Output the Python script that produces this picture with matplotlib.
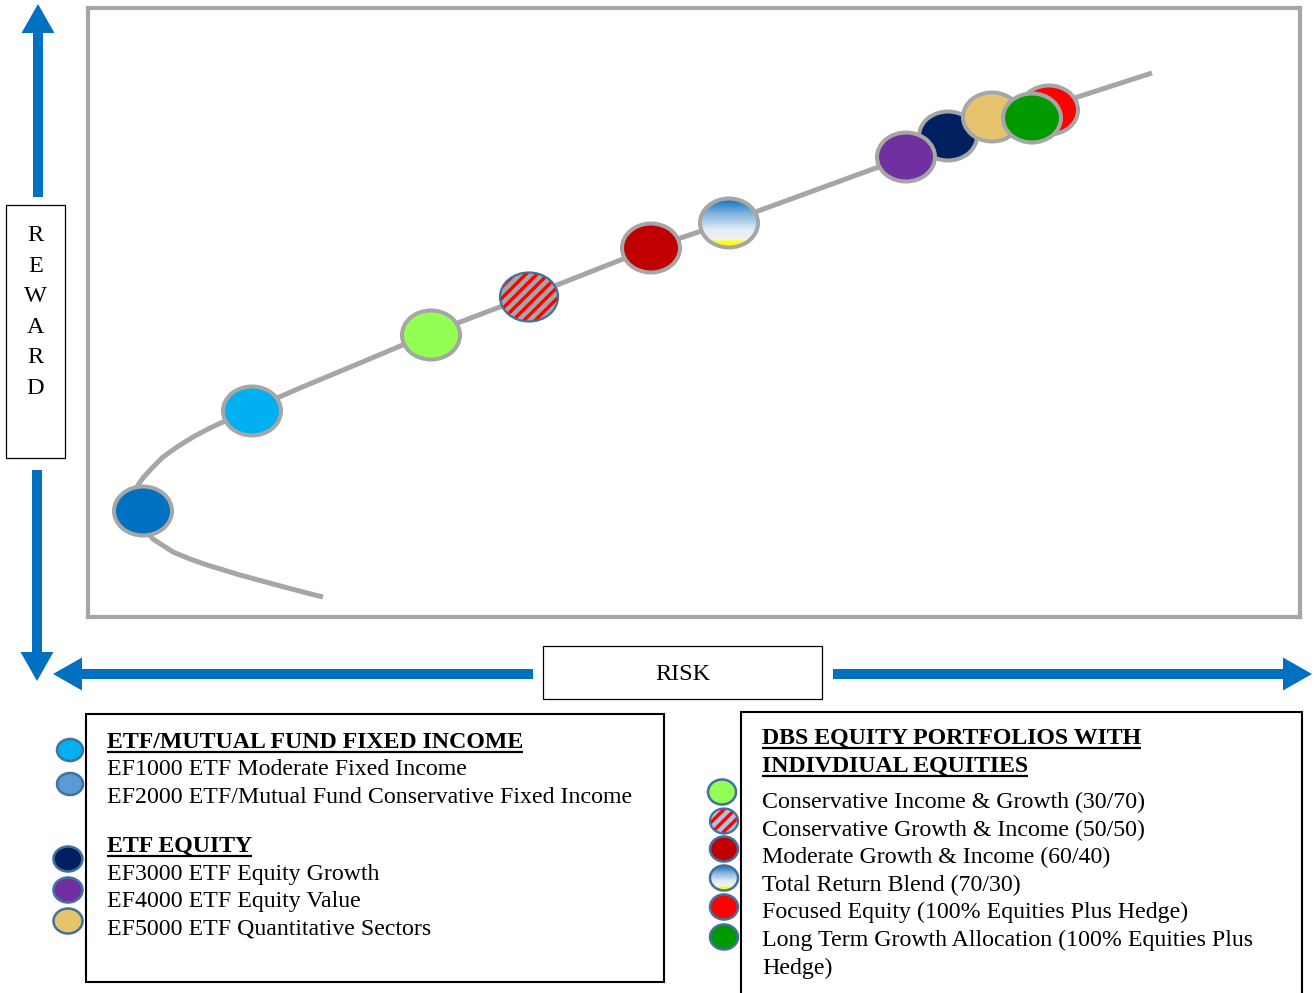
import matplotlib
matplotlib.use('Agg')
import matplotlib.pyplot as plt
from matplotlib.patches import Ellipse, Rectangle, FancyArrow
from matplotlib.colors import LinearSegmentedColormap
import numpy as np

W, H = 1314, 993
plt.rcParams['font.family'] = ['Liberation Serif', 'DejaVu Serif']
plt.rcParams['hatch.linewidth'] = 2.4

# ---------------- data ----------------
# efficient-frontier curve (risk, reward)
curve_risk = [235, 219, 185, 152, 119, 102, 85, 65, 53, 47, 47, 50, 55, 64, 75, 89, 105,
              122, 137, 164, 212, 272, 343, 441, 563, 640, 818, 912, 1064]
curve_reward = [20, 24, 33, 42, 52, 58, 65, 78, 92, 105, 118, 132, 139, 149, 160, 170, 180,
                189, 196, 208, 229, 254, 284, 321, 369, 395, 460, 495, 544]

# portfolios (drawing order)
portfolio_names = ['EF2000', 'EF1000', 'Conservative Income & Growth',
                   'Conservative Growth & Income', 'Moderate Growth & Income',
                   'Total Return Blend', 'EF3000', 'EF4000', 'EF5000',
                   'Focused Equity', 'Long Term Growth Allocation']
portfolio_risk = [55, 164, 343, 441, 563, 641, 860, 818, 904, 961, 944]
portfolio_reward = [106, 206, 282, 320, 369, 394, 481, 460, 500, 507, 499]
portfolio_colors = ['#0070C0', '#00B0F0', '#92FF52', 'stripe', '#C00000', 'gradient',
                    '#002060', '#7030A0', '#E6C46E', '#FF0000', '#009900']

fixed_income_title = 'ETF/MUTUAL FUND FIXED INCOME'
fixed_income_labels = ['EF1000 ETF Moderate Fixed Income',
                       'EF2000 ETF/Mutual Fund Conservative Fixed Income']
fixed_income_colors = ['#00B0F0', '#5B9BD5']
etf_equity_title = 'ETF EQUITY'
etf_equity_labels = ['EF3000 ETF Equity Growth', 'EF4000 ETF Equity Value',
                     'EF5000 ETF Quantitative Sectors']
etf_equity_colors = ['#002060', '#7030A0', '#E6C46E']
dbs_title = ['DBS EQUITY PORTFOLIOS WITH', 'INDIVDIUAL EQUITIES']
dbs_labels = ['Conservative Income & Growth (30/70)',
              'Conservative Growth & Income (50/50)',
              'Moderate Growth & Income (60/40)',
              'Total Return Blend (70/30)',
              'Focused Equity (100% Equities Plus Hedge)',
              'Long Term Growth Allocation (100% Equities Plus\nHedge)']
dbs_colors = ['#92FF52', 'stripe', '#C00000', 'gradient', '#FF0000', '#009900']

# ---------------- styles ----------------
BLUE = '#0070C0'
GRAY = '#A6A6A6'
EDGE = '#41719C'
FS = 17.2
grad_cmap = LinearSegmentedColormap.from_list(
    'sky', [(0.0, '#FFFF00'), (0.11, '#FFFF00'), (0.14, '#F2F2F2'),
            (0.35, '#E3EDF7'), (0.7, '#7DB0DE'), (1.0, '#0B6CBF')])

fig = plt.figure(figsize=(W / 100, H / 100), dpi=100)

# overlay axes in pixel units
ov = fig.add_axes([0, 0, 1, 1], zorder=0)
ov.set_xlim(0, W)
ov.set_ylim(H, 0)
ov.axis('off')

# chart axes
ax = fig.add_axes([88 / W, (H - 617) / H, 1212 / W, 609 / H], zorder=1)
ax.set_xlim(0, 1212)
ax.set_ylim(0, 609)
ax.set_xticks([])
ax.set_yticks([])
for s in ax.spines.values():
    s.set_color(GRAY)
    s.set_linewidth(3.0)

ax.plot(curve_risk, curve_reward, color=GRAY, lw=3.6, solid_capstyle='butt',
        solid_joinstyle='round', zorder=2)


def draw_marker(axis, x, y, w, h, style, edgecolor, lw, flip=False, z=3):
    if style == 'stripe':
        face = GRAY if not flip else '#A9C4E0'
        axis.add_patch(Ellipse((x, y), w, h, facecolor=face, edgecolor='none', zorder=z))
        axis.add_patch(Ellipse((x, y), w, h, facecolor='none', edgecolor='#FF0000',
                               hatch='///', lw=0, zorder=z))
        axis.add_patch(Ellipse((x, y), w, h, facecolor='none', edgecolor=EDGE,
                               lw=1.6, zorder=z))
        return
    if style == 'gradient':
        clip = Ellipse((x, y), w, h, facecolor='none', edgecolor='none', zorder=z)
        axis.add_patch(clip)
        g = np.linspace(1, 0, 100).reshape(-1, 1)
        if flip:
            ext = (x - w / 2, x + w / 2, y + h / 2, y - h / 2)
        else:
            ext = (x - w / 2, x + w / 2, y - h / 2, y + h / 2)
        im = axis.imshow(g, cmap=grad_cmap, extent=ext, origin='upper',
                         aspect='auto', zorder=z, interpolation='bilinear')
        im.set_clip_path(clip)
        axis.add_patch(Ellipse((x, y), w, h, facecolor='none', edgecolor=edgecolor,
                               lw=lw, zorder=z))
        return
    axis.add_patch(Ellipse((x, y), w, h, facecolor=style, edgecolor=edgecolor,
                           lw=lw, zorder=z))


for i, (r, rw, c) in enumerate(zip(portfolio_risk, portfolio_reward, portfolio_colors)):
    draw_marker(ax, r, rw, 58, 49, c, GRAY, 2.9, z=3 + i * 0.01)
ax.set_xlim(0, 1212)
ax.set_ylim(0, 609)

# ---------------- arrows ----------------
akw = dict(width=10, head_width=33, head_length=29, length_includes_head=True,
           color=BLUE, lw=0)
ov.add_patch(FancyArrow(38, 197, 0, -193, **akw))
ov.add_patch(FancyArrow(37, 470, 0, 211, **akw))
ov.add_patch(FancyArrow(533, 674, -480, 0, **akw))
ov.add_patch(FancyArrow(833, 674, 479, 0, **akw))

# ---------------- axis label boxes ----------------
ov.add_patch(Rectangle((6, 205), 59, 253, facecolor='white', edgecolor='black', lw=0.9))
for k, ch in enumerate('REWARD'):
    ov.text(35.5, 241 + k * 30.6, ch, fontsize=17.5, ha='center', va='baseline')
ov.add_patch(Rectangle((543, 646), 279, 53, facecolor='white', edgecolor='black', lw=0.9))
ov.text(682.5, 680, 'RISK', fontsize=17.5, ha='center', va='baseline')

# ---------------- legend boxes ----------------
ov.add_patch(Rectangle((86, 714), 578, 268, facecolor='white', edgecolor='black', lw=1.5))
ov.add_patch(Rectangle((741, 712), 561, 300, facecolor='white', edgecolor='black',
                       lw=1.5, clip_on=False))

underlined = []
t = ov.text(107, 748, fixed_income_title, fontsize=FS, fontweight='bold', va='baseline')
underlined.append((t, 748))
for k, lab in enumerate(fixed_income_labels):
    ov.text(107, 775 + k * 28, lab, fontsize=FS, va='baseline')
t = ov.text(107, 852, etf_equity_title, fontsize=FS, fontweight='bold', va='baseline')
underlined.append((t, 852))
for k, lab in enumerate(etf_equity_labels):
    ov.text(107, 880 + k * 27.5, lab, fontsize=FS, va='baseline')

for k, line in enumerate(dbs_title):
    t = ov.text(762, 744 + k * 28, line, fontsize=FS, fontweight='bold', va='baseline')
    underlined.append((t, 744 + k * 28))
y = 808
for lab in dbs_labels:
    for part in lab.split('\n'):
        ov.text(762, y, part, fontsize=FS, va='baseline')
        y += 27.6

# legend markers
left_marker_y = [750, 784]
for y, c in zip(left_marker_y, fixed_income_colors):
    draw_marker(ov, 70, y, 26, 22, c, EDGE, 1.8, flip=True)
left_marker_y2 = [859, 890, 921]
for y, c in zip(left_marker_y2, etf_equity_colors):
    draw_marker(ov, 68, y, 29, 25, c, EDGE, 1.8, flip=True)
right_marker_y = [792, 821, 849, 878, 907, 937]
for k, (y, c) in enumerate(zip(right_marker_y, dbs_colors)):
    x = 722 if k == 0 else 724
    draw_marker(ov, x, y, 28, 25, c, EDGE, 1.8, flip=True)

ov.set_xlim(0, W)
ov.set_ylim(H, 0)

# underline headings
fig.canvas.draw()
renderer = fig.canvas.get_renderer()
for t, base in underlined:
    bb = t.get_window_extent(renderer)
    ov.plot([bb.x0, bb.x1], [base + 3.5, base + 3.5], color='black', lw=1.6,
            solid_capstyle='butt')

fig.savefig('out.png', dpi=100)
